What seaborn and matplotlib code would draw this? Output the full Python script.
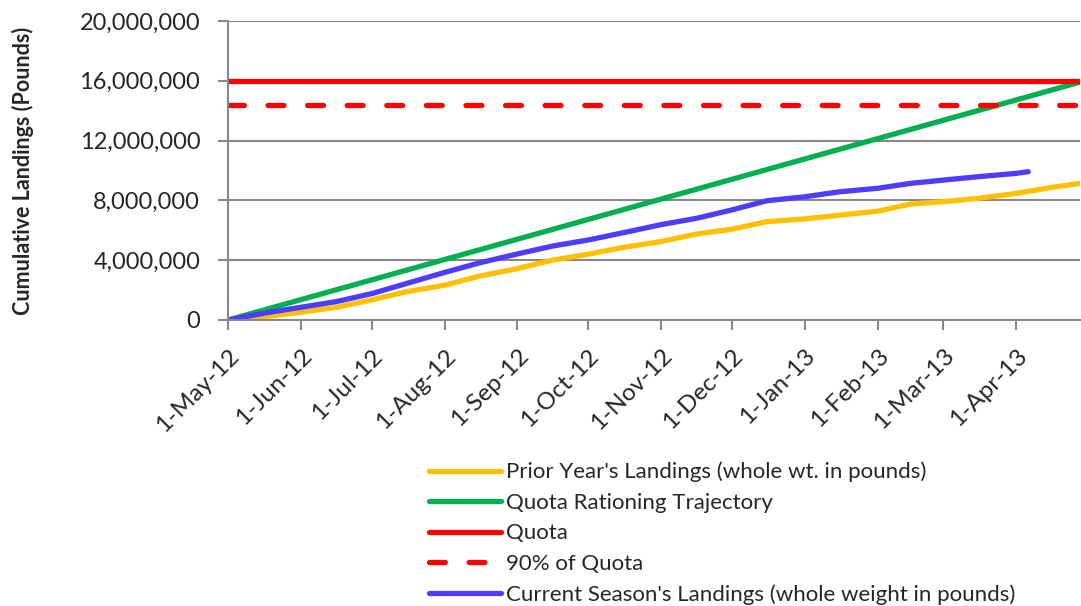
import matplotlib
matplotlib.use("Agg")
import matplotlib.pyplot as plt
import seaborn as sns
import pandas as pd
import numpy as np

# Tick positions / labels on the date axis
month_ticks = pd.date_range("2012-05-01", "2013-04-01", freq="MS")
month_labels = ["1-May-12", "1-Jun-12", "1-Jul-12", "1-Aug-12", "1-Sep-12", "1-Oct-12",
                "1-Nov-12", "1-Dec-12", "1-Jan-13", "1-Feb-13", "1-Mar-13", "1-Apr-13"]

# Prior year's cumulative landings (pounds)
prior_dates = pd.to_datetime([
    "2012-05-01", "2012-05-16", "2012-06-01", "2012-06-16", "2012-07-01", "2012-07-16",
    "2012-08-01", "2012-08-16", "2012-09-01", "2012-09-16", "2012-10-01", "2012-10-16",
    "2012-11-01", "2012-11-16", "2012-12-01", "2012-12-16", "2013-01-01", "2013-01-16",
    "2013-02-01", "2013-02-15", "2013-03-01", "2013-03-16", "2013-04-01", "2013-04-16",
    "2013-04-28"])
prior_vals = [0, 220000, 520000, 850000, 1340000, 1900000,
              2320000, 2940000, 3440000, 4010000, 4400000, 4860000,
              5250000, 5750000, 6070000, 6580000, 6760000, 7020000,
              7280000, 7760000, 7920000, 8140000, 8470000, 8870000,
              9140000]

# Current season's cumulative landings
curr_dates = pd.to_datetime([
    "2012-05-01", "2012-05-16", "2012-06-01", "2012-06-16", "2012-07-01", "2012-07-16",
    "2012-08-01", "2012-08-16", "2012-09-01", "2012-09-16", "2012-10-01", "2012-10-16",
    "2012-11-01", "2012-11-16", "2012-12-01", "2012-12-16", "2013-01-01", "2013-01-16",
    "2013-02-01", "2013-02-15", "2013-03-01", "2013-03-16", "2013-04-01", "2013-04-06"])
curr_vals = [0, 450000, 850000, 1230000, 1760000, 2450000,
             3180000, 3830000, 4420000, 4950000, 5350000, 5840000,
             6380000, 6800000, 7360000, 7980000, 8240000, 8580000,
             8810000, 9140000, 9360000, 9590000, 9810000, 9920000]

# Quota lines
season_dates = pd.to_datetime(["2012-05-01", "2013-04-30"])
trajectory_vals = [0, 16000000]
quota_vals = [16000000, 16000000]
quota90_vals = [14400000, 14400000]

sns.set_style("white")
plt.rcParams["font.family"] = ["Lato", "DejaVu Sans"]

fig = plt.figure(figsize=(10.81, 6.06), dpi=100)
ax = fig.add_axes([228 / 1081, 1 - 320 / 606, (1080 - 228) / 1081, (320 - 21) / 606])

lw = 3.8
sns.lineplot(x=prior_dates, y=prior_vals, ax=ax, color="#FFC000", lw=lw,
             label="Prior Year's Landings (whole wt. in pounds)")
sns.lineplot(x=season_dates, y=trajectory_vals, ax=ax, color="#00B050", lw=lw,
             label="Quota Rationing Trajectory")
sns.lineplot(x=season_dates, y=quota_vals, ax=ax, color="#FF0000", lw=lw, label="Quota")
sns.lineplot(x=season_dates, y=quota90_vals, ax=ax, color="#FF0000", lw=lw,
             label="90% of Quota")
ax.lines[-1].set_dashes([3, 4.5])
ax.lines[-1].set_dash_capstyle("round")
sns.lineplot(x=curr_dates, y=curr_vals, ax=ax, color="#4F3DFF", lw=lw,
             label="Current Season's Landings (whole weight in pounds)")
for ln in ax.lines:
    ln.set_solid_capstyle("round")

ax.set_xlim(pd.Timestamp("2012-05-01"), pd.Timestamp("2013-04-28"))
ax.set_ylim(0, 20000000)
yt = np.arange(0, 20000001, 4000000)
ax.set_yticks(yt)
ax.set_yticklabels([f"{v:,.0f}" for v in yt], fontsize=17)
ax.set_xticks(month_ticks)
ax.set_xticklabels(month_labels, rotation=45, ha="right", va="top",
                   rotation_mode="anchor", fontsize=17.5)
ax.tick_params(axis="both", direction="out", length=7, width=1.5, color="#888888",
               bottom=True, left=True)
ax.tick_params(axis="y", pad=13)
ax.tick_params(axis="x", pad=11)

ax.grid(axis="y", color="#888888", lw=1.5)
ax.set_axisbelow(True)
for s in ["top", "right"]:
    ax.spines[s].set_visible(False)
for s in ["left", "bottom"]:
    ax.spines[s].set_color("#888888")
    ax.spines[s].set_linewidth(1.5)

ax.set_ylabel("Cumulative Landings (Pounds)", fontsize=15.5, fontweight="bold", labelpad=33)
ax.set_xlabel("")

handles, labels = ax.get_legend_handles_labels()
ax.get_legend().remove()
fig.legend(handles, labels, loc="upper left", bbox_to_anchor=(420 / 1081, 1 - 453 / 606),
           frameon=False, fontsize=16, handlelength=3.25, handletextpad=0.23,
           labelspacing=0.47, borderaxespad=0)

fig.savefig("out.png", dpi=100)
